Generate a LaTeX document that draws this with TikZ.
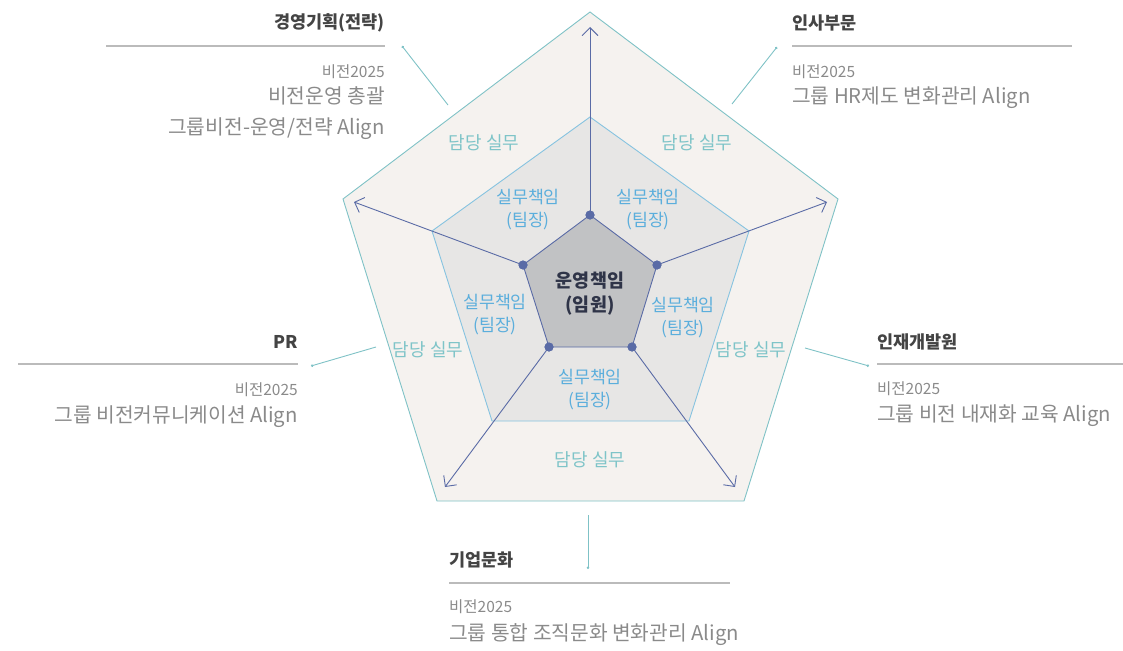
\documentclass[tikz,border=0pt]{standalone}
\usepackage{fontspec}
\setmainfont{Noto Sans CJK KR}
\usetikzlibrary{arrows.meta}

\definecolor{outerfill}{HTML}{F5F2EF}
\definecolor{outerline}{HTML}{7FC2C6}
\definecolor{midfill}{HTML}{E7E6E5}
\definecolor{midline}{HTML}{86C3E0}
\definecolor{corefill}{HTML}{C1C2C4}
\definecolor{navy}{HTML}{5A6BA6}
\definecolor{tealtext}{HTML}{7EC4C8}
\definecolor{bluetext}{HTML}{5BAEDC}
\definecolor{coretext}{HTML}{2F3448}
\definecolor{titlegray}{HTML}{444444}
\definecolor{descgray}{HTML}{8A8A8A}
\definecolor{rulegray}{HTML}{BBBBBB}

\begin{document}
\begin{tikzpicture}[x=1pt, y=-1pt,
    dutylbl/.style={font=\fontsize{18}{20}\selectfont, text=tealtext},
    leadlbl/.style={font=\fontsize{17.3}{23}\selectfont, text=bluetext, align=center},
    corelbl/.style={font=\fontsize{18.5}{24}\selectfont\bfseries, text=coretext, align=center},
    title/.style={font=\fontsize{17.5}{19}\selectfont\bfseries, text=titlegray, inner sep=0pt},
    subtitle/.style={font=\fontsize{15.5}{17}\selectfont, text=descgray, inner sep=0pt},
    desc/.style={font=\fontsize{20.3}{30}\selectfont, text=descgray, inner sep=0pt},
    rule/.style={rulegray, line width=1.2pt},
    axis/.style={navy, line width=0.9pt, -{Straight Barb[length=8pt,width=16pt]}},
    hub/.style={circle, fill=navy, inner sep=0pt, minimum size=9pt},
    leader/.style={outerline, line width=0.9pt, -{Circle[length=2.5pt]}}]
    \useasboundingbox (0,0) rectangle (1123,650);

    % pentagons
    \filldraw[fill=outerfill, draw=outerline, line width=0.9pt]
        (590,12) -- (838,199) -- (744,501) -- (437,501) -- (343,199) -- cycle;
    \filldraw[fill=midfill, draw=midline, line width=0.9pt]
        (590,117) -- (749,231) -- (689,421) -- (492,421) -- (432,231) -- cycle;
    \filldraw[fill=corefill, draw=navy, line width=0.9pt]
        (590,215) -- (657,265) -- (632,347) -- (549,347) -- (523,265) -- cycle;

    % axes
    \node[hub] (hubT)  at (590,215) {};
    \node[hub] (hubR)  at (657,265) {};
    \node[hub] (hubBR) at (632,347) {};
    \node[hub] (hubBL) at (549,347) {};
    \node[hub] (hubL)  at (523,265) {};
    \coordinate (tipT)  at (590,27);
    \coordinate (tipR)  at (827,202);
    \coordinate (tipBR) at (735,487);
    \coordinate (tipBL) at (445,487);
    \coordinate (tipL)  at (354,202);
    \draw[axis] (hubT.center)  -- (tipT);
    \draw[axis] (hubR.center)  -- (tipR);
    \draw[axis] (hubBR.center) -- (tipBR);
    \draw[axis] (hubBL.center) -- (tipBL);
    \draw[axis] (hubL.center)  -- (tipL);
    \foreach \h in {hubT,hubR,hubBR,hubBL,hubL}
        \node[hub] at (\h) {};

    % ring labels
    \node[dutylbl] (dutyTL) at (484,143) {담당 실무};
    \node[dutylbl] (dutyTR) at (697,143) {담당 실무};
    \node[dutylbl] (dutyL)  at (428,350) {담당 실무};
    \node[dutylbl] (dutyR)  at (751,350) {담당 실무};
    \node[dutylbl] (dutyB)  at (590,460) {담당 실무};
    \node[leadlbl] (leadTL) at (528,210) {실무책임\\(팀장)};
    \node[leadlbl] (leadTR) at (648,210) {실무책임\\(팀장)};
    \node[leadlbl] (leadL)  at (495,315) {실무책임\\(팀장)};
    \node[leadlbl] (leadR)  at (683,318) {실무책임\\(팀장)};
    \node[leadlbl] (leadB)  at (590,390) {실무책임\\(팀장)};
    \node[corelbl] (core)   at (590,294) {운영책임\\(임원)};

    % 경영기획
    \node[title, anchor=east] (planT) at (385,23) {경영기획(전략)};
    \draw[rule] (106,46) -- (385,46);
    \node[subtitle, anchor=east] (planS) at (385,72) {비전2025};
    \node[desc, anchor=east] (planD) at (385,113) {\begin{tabular}{@{}r@{}}비전운영 총괄\\그룹비전-운영/전략 Align\end{tabular}};

    % 인사부문
    \node[title, anchor=west] (hrT) at (792,23) {인사부문};
    \draw[rule] (792,46) -- (1072,46);
    \node[subtitle, anchor=west] (hrS) at (792,72) {비전2025};
    \node[desc, anchor=west] (hrD) at (792,98) {그룹 HR제도 변화관리 Align};

    % PR
    \node[title, anchor=east] (prT) at (298,342) {PR};
    \draw[rule] (18,364) -- (298,364);
    \node[subtitle, anchor=east] (prS) at (298,390) {비전2025};
    \node[desc, anchor=east] (prD) at (298,417) {그룹 비전커뮤니케이션 Align};

    % 인재개발원
    \node[title, anchor=west] (devT) at (877,342) {인재개발원};
    \draw[rule] (877,364) -- (1123,364);
    \node[subtitle, anchor=west] (devS) at (877,389) {비전2025};
    \node[desc, anchor=west] (devD) at (877,416) {그룹 비전 내재화 교육 Align};

    % 기업문화
    \node[title, anchor=west] (culT) at (449,560) {기업문화};
    \draw[rule] (449,583) -- (730,583);
    \node[subtitle, anchor=west] (culS) at (449,607) {비전2025};
    \node[desc, anchor=west] (culD) at (449,635) {그룹 통합 조직문화 변화관리 Align};

    % leaders
    \coordinate (ldPlanA) at (448,105); \coordinate (ldPlanB) at (402,46);
    \coordinate (ldHrA)   at (732,104); \coordinate (ldHrB)   at (777,47);
    \coordinate (ldPrA)   at (376,347); \coordinate (ldPrB)   at (311,366);
    \coordinate (ldDevA)  at (805,348); \coordinate (ldDevB)  at (869,366);
    \coordinate (ldCulA)  at (588,515); \coordinate (ldCulB)  at (588,569);
    \draw[leader] (ldPlanA) -- (ldPlanB);
    \draw[leader] (ldHrA) -- (ldHrB);
    \draw[leader] (ldPrA) -- (ldPrB);
    \draw[leader] (ldDevA) -- (ldDevB);
    \draw[leader] (ldCulA) -- (ldCulB);
\end{tikzpicture}
\end{document}
